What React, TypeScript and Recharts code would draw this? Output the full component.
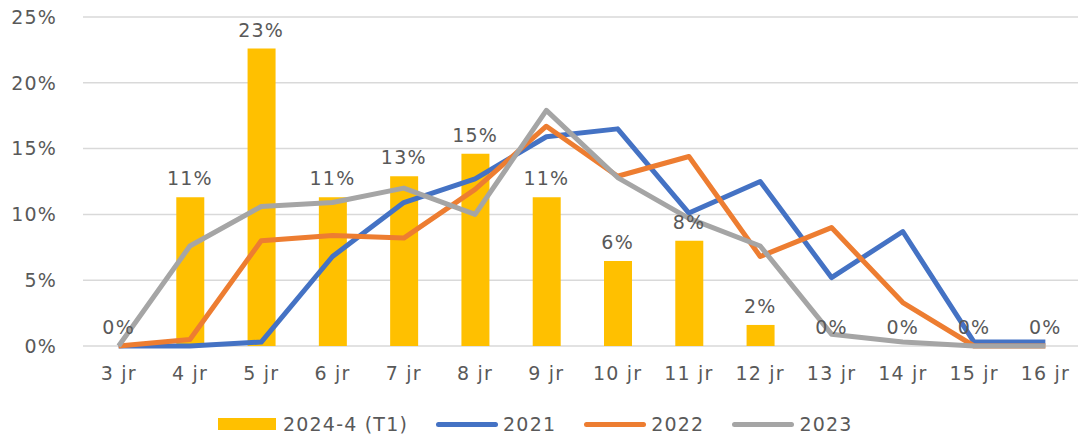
import React from 'react';
import {
    ComposedChart,
    Bar,
    Line,
    XAxis,
    YAxis,
    CartesianGrid,
    Legend,
    LabelList,
} from 'recharts';

const categories = ['3 jr', '4 jr', '5 jr', '6 jr', '7 jr', '8 jr', '9 jr', '10 jr', '11 jr', '12 jr', '13 jr', '14 jr', '15 jr', '16 jr'];
const share2024 = [0, 11.3, 22.6, 11.3, 12.9, 14.6, 11.3, 6.45, 8.0, 1.6, 0, 0, 0, 0];
const share2021 = [0, 0, 0.3, 6.8, 10.9, 12.7, 15.9, 16.5, 10.1, 12.5, 5.2, 8.7, 0.3, 0.3];
const share2022 = [0, 0.5, 8.0, 8.4, 8.2, 11.9, 16.7, 12.9, 14.4, 6.8, 9.0, 3.3, 0, 0];
const share2023 = [0, 7.6, 10.6, 10.9, 12.0, 10.0, 17.9, 12.8, 9.7, 7.6, 0.9, 0.3, 0, 0];
const yTicks = [0, 5, 10, 15, 20, 25];

const COLORS = {
    bar: '#FFC000',
    y2021: '#4472C4',
    y2022: '#ED7D31',
    y2023: '#A5A5A5',
    text: '#595959',
    grid: '#D9D9D9',
};

const FONT = '"DejaVu Sans", sans-serif';
const textStyle = { fill: COLORS.text, fontSize: 19, fontFamily: FONT, letterSpacing: 1.2 };

const data = categories.map((name, i) => ({
    name,
    t1: share2024[i],
    y2021: share2021[i],
    y2022: share2022[i],
    y2023: share2023[i],
}));

const legendItems = [
    { label: '2024-4 (T1)', color: COLORS.bar, kind: 'bar' },
    { label: '2021', color: COLORS.y2021, kind: 'line' },
    { label: '2022', color: COLORS.y2022, kind: 'line' },
    { label: '2023', color: COLORS.y2023, kind: 'line' },
];

function renderLegend() {
    return (
        <div style={{ display: 'flex', alignItems: 'center', height: 26, paddingLeft: 218, fontFamily: FONT, fontSize: 19, letterSpacing: 1.2, color: COLORS.text }}>
            {legendItems.map((item) => (
                <div key={item.label} style={{ display: 'flex', alignItems: 'center', marginRight: 28 }}>
                    {item.kind === 'bar' ? (
                        <div style={{ width: 58, height: 12, background: item.color, marginRight: 7 }} />
                    ) : (
                        <div style={{ width: 62, height: 5, borderRadius: 3, background: item.color, marginRight: 5 }} />
                    )}
                    <span>{item.label}</span>
                </div>
            ))}
        </div>
    );
}

const pct = (v: any) => `${Math.round(Number(v))}%`;

export default function App() {
    return (
        <div style={{ position: 'absolute', left: 0, top: 0, width: 1078, height: 437, overflow: 'hidden', background: '#fff' }}>
            <ComposedChart
                width={1081}
                height={437}
                data={data}
                margin={{ top: 17, right: 0, bottom: 0, left: 0 }}
                barCategoryGap={0}
            >
                <CartesianGrid vertical={false} stroke={COLORS.grid} strokeWidth={1.5} />
                <XAxis
                    dataKey="name"
                    axisLine={false}
                    tickLine={false}
                    tickSize={0}
                    tickMargin={21}
                    height={65}
                    interval={0}
                    tick={textStyle}
                />
                <YAxis
                    domain={[0, 25]}
                    ticks={yTicks}
                    width={83}
                    axisLine={false}
                    tickLine={false}
                    tickSize={0}
                    tickMargin={26}
                    tickFormatter={pct}
                    tick={textStyle}
                />
                <Legend verticalAlign="bottom" content={renderLegend} />
                <Bar dataKey="t1" name="2024-4 (T1)" fill={COLORS.bar} barSize={28} isAnimationActive={false} />
                <Line type="linear" dataKey="y2021" name="2021" stroke={COLORS.y2021} strokeWidth={5} dot={false} strokeLinejoin="round" isAnimationActive={false} />
                <Line type="linear" dataKey="y2022" name="2022" stroke={COLORS.y2022} strokeWidth={5} dot={false} strokeLinejoin="round" isAnimationActive={false} />
                <Line type="linear" dataKey="y2023" name="2023" stroke={COLORS.y2023} strokeWidth={5} dot={false} strokeLinejoin="round" isAnimationActive={false} />
                {/* invisible carrier so the 0% labels show too */}
                <Line type="linear" dataKey="t1" stroke="none" dot={false} activeDot={false} legendType="none" isAnimationActive={false}>
                    <LabelList dataKey="t1" position="top" offset={12} formatter={pct} style={textStyle} />
                </Line>
            </ComposedChart>
        </div>
    );
}
